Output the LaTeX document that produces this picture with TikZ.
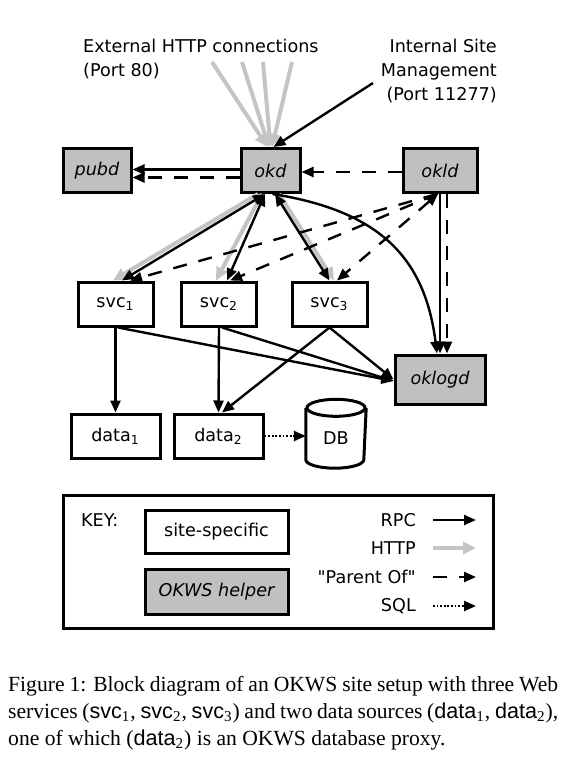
\documentclass[tikz,border=0pt]{standalone}
\usepackage{fontspec}
\setmainfont{Liberation Serif}
\setsansfont{DejaVu Sans}
\newfontfamily\capsf{Liberation Sans}
\newfontfamily\plainsf{DejaVu Sans}
\usetikzlibrary{arrows.meta,calc,positioning}
\definecolor{HelperGray}{HTML}{C0C0C0}
\definecolor{HttpGray}{HTML}{C4C4C4}

\begin{document}
\begin{tikzpicture}[x=.5pt,y=-.5pt,line width=1.2pt,font=\sffamily\fontsize{8.8}{12}\selectfont,
 every node/.style={inner sep=1pt},>={Triangle[length=6pt,width=5pt]},
 sitebox/.style={draw,line width=1.5pt,fill=white,minimum height=22pt},
 helperbox/.style={sitebox,fill=HelperGray,font=\sffamily\itshape\fontsize{8.8}{12}\selectfont},
 rpc/.style={->},
 http/.style={->,draw=HttpGray,line width=2pt,>={Triangle[length=6.5pt,width=6pt]}},
 parent/.style={->,dash pattern=on 7pt off 6pt},
 sql/.style={->,dash pattern=on .9pt off .9pt}]
\useasboundingbox (0,0) rectangle (586,777);
% top labels
\node[anchor=west,align=left] (exttxt) at (80,59) {External HTTP connections\\(Port 80)};
\node[anchor=east,align=right] (inttxt) at (500,71) {Internal Site\\Management\\(Port 11277)};
\foreach \x [count=\i] in {212,242,263,292}{\coordinate (ext\i) at (\x,62);}
\coordinate (mgmt) at (373,83);
% boxes
\node[helperbox,minimum width=34pt] (pubd) at (97,170.5) {pubd};
\node[helperbox,minimum width=29.5pt] (okd) at (270.5,170.5) {okd};
\node[helperbox,minimum width=37pt] (okld) at (440,170.5) {okld};
\node[sitebox,minimum width=37.5pt] (svc1) at (115.5,304) {svc\textsubscript{1}};
\node[sitebox,minimum width=37.5pt] (svc2) at (219,304) {svc\textsubscript{2}};
\node[sitebox,minimum width=37.5pt] (svc3) at (329.5,304) {svc\textsubscript{3}};
\node[helperbox,minimum width=45pt,minimum height=24.5pt] (oklogd) at (440,379.5) {oklogd};
\node[sitebox,minimum width=44.5pt] (data1) at (115.5,436) {data\textsubscript{1}};
\node[sitebox,minimum width=44.5pt] (data2) at (218.5,436) {data\textsubscript{2}};
\node[minimum width=29pt,minimum height=29pt] (db) at (336,438) {DB};
\draw[line width=1.5pt] (db.north) ellipse[x radius=14.5pt,y radius=4.25pt];
\draw[line width=1.5pt] (db.north west) -- ([yshift=4.25pt]db.south west)
  arc[start angle=180,end angle=360,x radius=14.5pt,y radius=4.25pt] -- (db.north east);
% incoming
\foreach \i/\s in {1/-1.5,2/-.75,3/0,4/.75}{\draw[http] (ext\i) -- ([xshift=\s pt]okd.north);}
\draw[rpc] (mgmt) -- ([xshift=1.5pt]okd.north);
% okd, okld
\draw[rpc] ([yshift=.5pt]okd.west) -- ([yshift=.5pt]pubd.east);
\draw[parent] ([yshift=-3.5pt]okd.west) -- ([yshift=-3.5pt]pubd.east);
\draw[parent] ([yshift=-.75pt]okld.west) -- ([yshift=-.75pt]okd.east);
\draw[http] ([xshift=-6.25pt]okd.south) -- ([xshift=-1.25pt]svc1.north);
\draw[http] ([xshift=-4.25pt]okd.south) -- ([xshift=-1.5pt]svc2.north);
\draw[http] ([xshift=4.25pt]okd.south) -- ([xshift=2.25pt]svc3.north);
\draw[<->] ([xshift=-2.75pt]okd.south) -- ([xshift=3.25pt]svc1.north);
\draw[<->] ([xshift=-2.75pt]okd.south) -- ([xshift=4pt]svc2.north);
\draw[<->] ([xshift=2.25pt]okd.south) -- (svc3.north);
\draw[parent] ([xshift=-1.5pt]okld.south) -- ([xshift=7.25pt]svc1.north);
\draw[parent] ([xshift=-1.5pt]okld.south) -- ([xshift=5.5pt]svc2.north);
\draw[parent,<->] ([xshift=-1pt]okld.south) -- ([xshift=3.75pt]svc3.north);
\draw[rpc] ([xshift=1pt]okd.south) .. controls +(108,17) and +(-12,-95) .. ([xshift=-1.5pt]oklogd.north);
\draw[rpc] (okld.south) -- (oklogd.north);
\draw[parent] ([xshift=3.5pt]okld.south) -- ([xshift=3.5pt]oklogd.north);
% services
\draw[rpc] ([xshift=1.25pt]svc1.south) -- ([yshift=-.75pt]oklogd.west);
\draw[rpc] ([xshift=1.5pt]svc2.south) -- ([yshift=-.75pt]oklogd.west);
\draw[rpc] (svc3.south) -- (oklogd.west);
\draw[rpc] (svc1.south) -- (data1.north);
\draw[rpc] (svc2.south) -- (data2.north);
\draw[rpc] (svc3.south) -- ([xshift=1.75pt]data2.north);
\draw[sql] (data2.east) -- (data2.east -| db.west);
% key
\node[draw,line width=1.5pt,minimum width=215pt,minimum height=66.5pt] (key) at (278,561.5) {};
\node[anchor=west] (keytxt) at (78,520) {KEY:};
\node[sitebox,minimum width=71.5pt,minimum height=21.5pt] (keysite) at (216.5,531.5) {site-specific};
\node[helperbox,minimum width=71.5pt,minimum height=22.5pt] (keyhelper) at (216.5,591.5) {OKWS helper};
\foreach \k/\y/\t in {rpc/520/RPC,http/548/HTTP,parent/577/{\plainsf"Parent Of"},sql/606/SQL}{
  \node[anchor=east] (key\k) at (419,\y) {\t};
  \coordinate (\k A) at (433,\y); \coordinate (\k B) at (476,\y);
  \draw[\k] (\k A) -- (\k B);
}
% caption
\node[anchor=north west,text width=275pt,align=justify,inner sep=0pt,
  font=\rmfamily\fontsize{10.8}{13.5}\selectfont] (caption) at (7,675)
  {Figure 1: Block diagram of an OKWS site setup with three Web\linebreak
  services ({\capsf svc}\textsubscript{1}, {\capsf svc}\textsubscript{2}, {\capsf svc}\textsubscript{3}) and two data sources ({\capsf data}\textsubscript{1}, {\capsf data}\textsubscript{2}),\linebreak
  one of which ({\capsf data}\textsubscript{2}) is an OKWS database proxy.};
\end{tikzpicture}
\end{document}
